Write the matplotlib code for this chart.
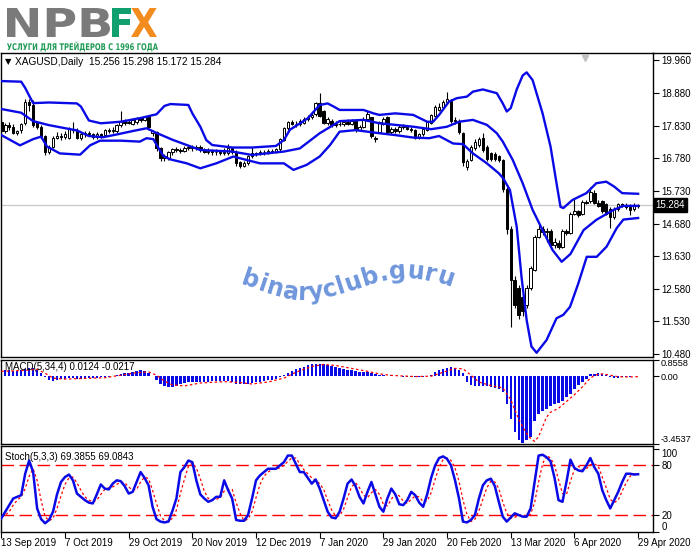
import numpy as np
import matplotlib
matplotlib.use("Agg")
import matplotlib.pyplot as plt
from matplotlib.textpath import TextPath, TextToPath
from matplotlib.patches import PathPatch
from matplotlib.font_manager import FontProperties
from matplotlib.transforms import Affine2D, IdentityTransform
from matplotlib.lines import Line2D

plt.rcParams['font.family'] = ['Liberation Sans', 'DejaVu Sans']

# ---- price data (XAGUSD daily) ----
opens = [17.95, 17.65, 17.85, 17.80, 17.60, 17.68, 17.91, 18.60, 18.50, 17.95,
         17.80, 17.50, 17.00, 17.15, 17.45, 17.50, 17.48, 17.45, 17.72, 17.70,
         17.45, 17.55, 17.60, 17.55, 17.48, 17.55, 17.52, 17.68, 17.65, 17.65,
         17.85, 18.00, 17.92, 17.90, 17.95, 18.07, 18.02, 18.10, 17.60, 17.62,
         17.10, 16.78, 16.78, 16.98, 17.08, 17.05, 17.02, 17.10, 17.15, 17.10,
         17.15, 17.05, 17.00, 17.03, 16.98, 17.00, 16.95, 16.95, 17.10, 17.00,
         16.65, 16.55, 16.62, 16.85, 16.95, 16.92, 17.00, 16.98, 17.02, 17.00,
         17.08, 17.38, 17.75, 17.95, 17.90, 17.88, 17.92, 18.05, 18.10, 18.20,
         18.55, 18.30, 17.92, 18.00, 17.85, 17.90, 17.88, 17.95, 17.90, 18.00,
         17.70, 17.80, 18.05, 18.10, 17.45, 17.62, 17.90, 18.10, 17.62, 17.72,
         17.65, 17.78, 17.80, 17.72, 17.68, 17.48, 17.55, 17.70, 17.92, 18.15,
         18.35, 18.42, 18.60, 18.65, 17.98, 18.00, 17.60, 16.50, 16.72, 17.10,
         17.20, 17.45, 17.15, 16.95, 16.92, 16.85, 16.72, 15.80, 14.50, 12.85,
         12.60, 12.30, 12.05, 12.60, 13.20, 14.25, 14.50, 14.40, 14.45, 14.00,
         14.05, 13.92, 14.45, 14.38, 15.00, 15.08, 14.98, 15.38, 15.40, 15.68,
         15.35, 15.40, 15.30, 15.15, 14.88, 15.15, 15.30, 15.25, 15.20, 15.15,
         15.256]
highs = [18.05, 17.92, 17.95, 17.90, 17.70, 17.92, 18.70, 18.68, 18.65, 18.00,
         17.85, 17.52, 17.20, 17.50, 17.62, 17.60, 17.65, 17.78, 17.95, 17.75,
         17.60, 17.65, 17.66, 17.60, 17.62, 17.60, 17.72, 17.75, 17.78, 17.88,
         18.30, 18.05, 18.02, 18.08, 18.12, 18.12, 18.16, 18.15, 17.70, 17.65,
         17.15, 16.92, 17.02, 17.12, 17.15, 17.12, 17.18, 17.20, 17.20, 17.22,
         17.20, 17.10, 17.10, 17.08, 17.08, 17.05, 17.10, 17.25, 17.15, 17.05,
         16.70, 16.68, 16.90, 17.15, 17.00, 17.05, 17.05, 17.08, 17.08, 17.12,
         17.45, 17.80, 18.00, 18.02, 17.98, 18.05, 18.10, 18.18, 18.25, 18.60,
         18.88, 18.35, 18.10, 18.05, 17.98, 17.98, 18.02, 18.05, 18.05, 18.05,
         17.85, 18.10, 18.32, 18.12, 17.50, 18.00, 18.10, 18.15, 17.80, 17.78,
         17.85, 17.88, 17.85, 17.78, 17.72, 17.60, 17.78, 18.00, 18.22, 18.50,
         18.55, 18.65, 18.92, 18.70, 18.10, 18.05, 17.62, 16.75, 17.20, 17.40,
         17.48, 17.60, 17.20, 17.00, 16.98, 16.90, 16.75, 15.85, 14.60, 13.00,
         12.70, 12.45, 12.70, 13.30, 14.30, 14.65, 14.60, 14.55, 14.50, 14.20,
         14.15, 14.50, 14.52, 15.05, 15.50, 15.12, 15.45, 15.45, 15.87, 15.75,
         15.45, 15.45, 15.35, 15.20, 15.20, 15.35, 15.35, 15.35, 15.30, 15.35,
         15.298]
lows = [17.60, 17.60, 17.70, 17.55, 17.52, 17.60, 17.85, 18.30, 17.80, 17.72,
        17.45, 16.90, 16.92, 17.10, 17.40, 17.38, 17.42, 17.40, 17.60, 17.40,
        17.38, 17.48, 17.50, 17.40, 17.42, 17.45, 17.48, 17.60, 17.60, 17.60,
        17.80, 17.85, 17.88, 17.85, 17.90, 17.95, 17.98, 17.75, 17.50, 17.02,
        16.70, 16.70, 16.72, 16.90, 16.98, 16.95, 16.98, 17.05, 17.02, 17.05,
        17.00, 16.95, 16.92, 16.90, 16.90, 16.88, 16.90, 16.90, 16.92, 16.55,
        16.48, 16.50, 16.58, 16.80, 16.85, 16.88, 16.90, 16.92, 16.95, 16.95,
        17.02, 17.35, 17.70, 17.85, 17.80, 17.82, 17.88, 18.00, 18.05, 18.15,
        18.10, 17.88, 17.85, 17.80, 17.78, 17.82, 17.82, 17.85, 17.85, 17.62,
        17.65, 17.75, 18.00, 17.45, 17.30, 17.60, 17.85, 17.55, 17.55, 17.60,
        17.60, 17.72, 17.68, 17.62, 17.42, 17.42, 17.50, 17.65, 17.88, 18.10,
        18.30, 18.38, 18.55, 17.92, 17.88, 17.55, 16.55, 16.42, 16.70, 17.05,
        17.15, 17.00, 16.70, 16.70, 16.70, 16.65, 15.70, 14.35, 11.35, 11.95,
        11.60, 11.70, 11.95, 12.55, 13.15, 14.20, 14.30, 14.10, 13.95, 13.90,
        13.85, 13.88, 14.30, 14.33, 14.95, 14.88, 14.95, 15.30, 15.35, 15.30,
        15.20, 15.02, 14.95, 14.55, 14.82, 15.10, 15.20, 15.15, 14.95, 15.10,
        15.172]
closes = [17.65, 17.85, 17.78, 17.60, 17.65, 17.88, 18.60, 18.50, 17.85, 17.80,
          17.50, 16.98, 17.15, 17.45, 17.50, 17.48, 17.55, 17.72, 17.70, 17.45,
          17.55, 17.60, 17.55, 17.48, 17.55, 17.50, 17.68, 17.65, 17.70, 17.85,
          18.00, 17.92, 17.95, 18.02, 18.07, 18.02, 18.12, 17.80, 17.65, 17.10,
          16.78, 16.85, 16.98, 17.08, 17.05, 17.02, 17.10, 17.15, 17.10, 17.15,
          17.05, 17.00, 17.03, 16.98, 17.00, 16.95, 17.00, 17.12, 17.00, 16.62,
          16.55, 16.62, 16.85, 16.95, 16.92, 17.00, 16.98, 17.02, 17.00, 17.08,
          17.40, 17.75, 17.95, 17.90, 17.88, 17.98, 18.05, 18.12, 18.18, 18.55,
          18.15, 17.92, 18.05, 17.85, 17.90, 17.88, 17.95, 17.90, 17.98, 17.68,
          17.78, 18.05, 18.20, 17.50, 17.40, 17.95, 18.05, 17.62, 17.72, 17.65,
          17.78, 17.82, 17.72, 17.68, 17.45, 17.55, 17.72, 17.95, 18.18, 18.45,
          18.45, 18.60, 18.68, 17.98, 18.02, 17.62, 16.65, 16.70, 17.15, 17.30,
          17.42, 17.05, 16.75, 16.75, 16.75, 16.72, 15.80, 14.50, 12.85, 12.05,
          11.75, 11.85, 12.60, 13.25, 14.25, 14.50, 14.40, 14.45, 14.00, 14.10,
          13.92, 14.45, 14.38, 15.00, 15.08, 14.95, 15.38, 15.35, 15.70, 15.35,
          15.25, 15.08, 15.00, 14.90, 15.15, 15.30, 15.25, 15.20, 15.12, 15.26,
          15.284]

# Bollinger bands, read at sample bars
bb_up_idx = [0, 5, 6, 7, 8, 12, 19, 20, 22, 25, 30, 35, 39, 41, 42.5, 47, 48, 50, 51.5, 53,
             58, 63, 69, 71, 72.5, 77, 80, 82, 83.5, 85, 91, 93.5, 95, 99, 103.5, 107, 108.5,
             110, 112.5, 114.5, 117, 118.5, 121, 124.5, 126, 127, 128, 129.5, 131, 132, 133.5,
             136, 138, 139.5, 140.5, 141.2, 143.5, 147, 149.5, 152, 154, 156, 160]
bb_up = [19.27, 19.25, 19.05, 18.80, 18.56, 18.58, 18.55, 18.45, 18.00, 17.91, 17.96, 18.08,
         18.20, 18.47, 18.53, 18.50, 18.23, 17.80, 17.37, 17.21, 17.13, 17.13, 17.18, 17.37,
         17.70, 18.07, 18.50, 18.55, 18.45, 18.34, 18.34, 18.23, 18.18, 18.23, 18.18, 17.96,
         17.96, 18.18, 18.61, 18.72, 18.77, 18.93, 19.00, 18.88, 18.55, 18.29, 18.40, 19.00,
         19.45, 19.55, 19.30, 18.23, 17.16, 15.98, 15.22, 15.18, 15.44, 15.66, 15.98, 16.03,
         15.87, 15.66, 15.64]
bb_mid_idx = [0, 5, 8, 12, 19, 22, 25.5, 29, 33, 36.5, 39, 43, 50, 58, 63, 71, 75, 80, 83.5,
              85, 91, 95, 99, 103.5, 108, 112, 115, 118.5, 122, 124.5, 126, 128.5, 131, 133.5,
              136, 138.5, 140.8, 143, 146.3, 149.5, 153.8, 156.3, 160]
bb_mid = [18.37, 18.25, 17.98, 17.85, 17.68, 17.50, 17.46, 17.55, 17.66, 17.75, 17.60, 17.38,
          17.05, 17.00, 16.89, 17.00, 17.10, 17.59, 17.86, 17.98, 18.02, 17.91, 17.86, 17.80,
          17.72, 17.80, 17.96, 18.02, 17.86, 17.59, 17.32, 16.73, 15.98, 15.12, 14.47, 13.83,
          13.45, 13.70, 14.47, 14.80, 15.12, 15.25, 15.25]
bb_low_idx = [0, 4.7, 8, 10, 11.5, 14.7, 19.8, 22.3, 24.8, 30, 34.8, 36.5, 38.2, 39, 40.7,
              42.4, 46.6, 50, 54, 58.3, 61.6, 65, 71, 73.4, 76.7, 80, 82.6, 85, 89, 95, 99,
              103.5, 107.5, 110, 113.5, 116, 118.5, 122, 125, 126.1, 127.8, 129.5, 130.7, 132,
              133.2, 134.5, 137, 139.5, 141.2, 142.9, 145, 147.1, 149.6, 152.1, 154.6, 156.3, 160]
bb_low = [17.53, 17.20, 17.40, 17.48, 17.16, 16.94, 16.90, 17.20, 17.35, 17.35, 17.32, 17.43,
          17.40, 17.22, 16.86, 16.75, 16.62, 16.46, 16.62, 16.84, 16.73, 16.62, 16.62, 16.41,
          16.57, 16.84, 17.21, 17.64, 17.69, 17.59, 17.53, 17.45, 17.43, 17.50, 17.26, 17.24,
          16.94, 16.62, 16.30, 16.14, 15.76, 14.58, 12.97, 11.57, 10.72, 10.52, 10.93, 11.63,
          11.74, 12.00, 12.76, 13.61, 13.61, 13.94, 14.53, 14.81, 14.86]

# MACD(5,34,4) histogram, per bar, and its signal line
macd_hist = [0.32, 0.30, 0.30, 0.28, 0.28, 0.30, 0.36, 0.42, 0.40, 0.30, 0.15,
             -0.05, -0.20, -0.25, -0.20,
             -0.15, -0.12, -0.10, -0.10, -0.12, -0.12, -0.12, -0.10, -0.08, -0.08, -0.06, -0.04, -0.02, 0.02,
             0.08, 0.12, 0.15, 0.18, 0.20, 0.25, 0.30, 0.28, 0.15,
             0.02, -0.20, -0.40, -0.52, -0.56, -0.55, -0.50, -0.42, -0.36, -0.32,
             -0.30, -0.30, -0.30, -0.28, -0.28, -0.27, -0.26, -0.26, -0.25, -0.26,
             -0.30, -0.38, -0.42, -0.42, -0.40, -0.35, -0.30, -0.28, -0.25, -0.22,
             -0.18, -0.12, -0.05, 0.05,
             0.15, 0.25, 0.35, 0.42, 0.48, 0.55, 0.60, 0.63, 0.65, 0.62, 0.58, 0.52,
             0.46, 0.40, 0.36, 0.33, 0.32, 0.28, 0.24, 0.22, 0.20, 0.16, 0.10,
             0.06, 0.05, 0.02, 0.04, 0.03, 0.00, -0.02, -0.03, -0.02, -0.05, -0.06, -0.03, 0.02, 0.08,
             0.20, 0.30, 0.38, 0.44, 0.46, 0.42, 0.32, 0.15,
             -0.30, -0.45, -0.50, -0.50, -0.48, -0.50, -0.55, -0.60, -0.65,
             -0.80, -1.42, -2.22, -2.84, -3.29, -3.45, -3.29, -3.10, -2.30, -1.95, -1.80, -1.69,
             -1.55, -1.45, -1.37, -1.25, -1.05, -0.90, -0.66, -0.45, -0.30, -0.12, 0.10,
             0.13, 0.14, 0.12, 0.05, -0.05, -0.08, -0.08, -0.06, -0.05, -0.03, -0.01, 0.0124]
macd_sig_idx = [0, 6, 9, 11, 13, 16, 20, 26, 30, 34, 37, 39, 41, 43, 46, 50, 56, 60, 63, 67,
                71, 74, 78, 81, 84, 88, 92, 95, 98, 104, 108, 111, 114, 116, 118, 120, 123, 126,
                128, 130, 131, 132.5, 134, 135, 136, 137, 138, 140, 142, 144, 146, 147.5, 149,
                151, 153, 155, 158, 160]
macd_sig = [0.25, 0.30, 0.35, 0.15, -0.10, -0.15, -0.12, -0.08, 0.05, 0.18, 0.22, 0.05, -0.25,
            -0.45, -0.50, -0.35, -0.28, -0.33, -0.40, -0.30, -0.10, 0.20, 0.50, 0.60, 0.55, 0.40,
            0.25, 0.12, 0.04, -0.02, 0.00, 0.20, 0.40, 0.38, 0.05, -0.30, -0.48, -0.60, -1.20,
            -2.20, -2.60, -3.10, -3.35, -3.10, -2.60, -2.10, -1.85, -1.65, -1.30, -0.95, -0.55,
            -0.20, 0.05, 0.12, 0.05, -0.03, -0.04, -0.0217]

# Stochastic(5,3,3) main and signal, per bar
stoch_k = [16, 24, 32, 40, 42, 44, 70, 86, 72, 28,
           15, 10, 14, 24, 45, 60, 66, 69, 62, 46,
           42, 38, 35, 34, 45, 57, 52, 51, 58, 62,
           61, 55, 46, 48, 60, 72, 65, 56, 30, 15,
           12, 11, 12, 25, 40, 72, 78, 86, 84, 62,
           45, 40, 36, 38, 42, 42, 62, 50, 40, 14,
           13, 13, 20, 40, 62, 68, 72, 76, 76, 76,
           80, 84, 92, 92, 82, 72, 72, 65, 58, 63,
           52, 38, 24, 17, 16, 24, 40, 58, 63, 55,
           42, 34, 48, 60, 45, 30, 24, 40, 52, 45,
           33, 32, 38, 48, 44, 35, 30, 45, 65, 80,
           89, 91, 88, 80, 62, 40, 12, 11, 14, 20,
           40, 56, 62, 64, 55, 36, 18, 12, 17, 22,
           20, 18, 18, 28, 60, 92, 93, 90, 85, 65,
           38, 36, 60, 87, 77, 74, 73, 80, 89, 78,
           70, 50, 38, 28, 38, 48, 60, 70, 70, 69,
           69.39]
stoch_d = [18, 20, 24, 32, 38, 42, 52, 67, 76, 62,
           38, 18, 13, 16, 28, 43, 57, 65, 66, 59,
           50, 42, 38, 36, 38, 45, 51, 53, 54, 57,
           60, 59, 54, 50, 51, 60, 66, 64, 50, 34,
           19, 13, 12, 16, 26, 46, 63, 79, 83, 77,
           64, 49, 40, 38, 39, 41, 49, 51, 51, 35,
           22, 13, 15, 24, 41, 57, 67, 72, 75, 76,
           77, 80, 85, 89, 89, 82, 75, 70, 65, 62,
           58, 51, 38, 26, 19, 19, 27, 41, 54, 59,
           53, 44, 41, 47, 51, 45, 33, 31, 39, 46,
           43, 37, 34, 39, 43, 42, 36, 37, 47, 63,
           78, 87, 89, 86, 77, 61, 38, 21, 12, 15,
           25, 39, 53, 61, 60, 52, 36, 22, 16, 17,
           20, 20, 19, 21, 35, 60, 82, 92, 89, 80,
           63, 46, 45, 61, 75, 79, 75, 76, 81, 82,
           79, 66, 53, 39, 35, 38, 49, 59, 67, 70,
           69.08]

price_ticks = [19.96, 18.88, 17.83, 16.78, 15.73, 14.68, 13.63, 12.58, 11.53, 10.48]
date_idx = [0, 16, 32, 48, 64, 80, 96, 112, 128, 144, 160]
date_labels = ['13 Sep 2019', '7 Oct 2019', '29 Oct 2019', '20 Nov 2019', '12 Dec 2019',
               '7 Jan 2020', '29 Jan 2020', '20 Feb 2020', '13 Mar 2020', '6 Apr 2020',
               '29 Apr 2020']
last_price = 15.284

# ---- layout in pixels ----
W, H = 691, 549
fig = plt.figure(figsize=(W / 100, H / 100), dpi=100)
BLUE = '#0a0ae6'


def ax_px(left, top, right, bottom):
    return fig.add_axes([left / W, 1 - bottom / H, (right - left) / W, (bottom - top) / H])


XL = ((1 - 1.3) / 3.98, (653 - 1.3) / 3.98)
main = ax_px(1, 53, 653, 357)
macd = ax_px(1, 359.5, 653, 443.5)
stoch = ax_px(1, 446, 653, 531.5)

for a in (main, macd, stoch):
    a.set_xlim(*XL)
    a.yaxis.tick_right()
    a.tick_params(axis='y', direction='out', length=4, width=0.8, labelsize=7, pad=2)
    for s in a.spines.values():
        s.set_linewidth(1.0)
        s.set_color('black')
    a.set_facecolor('white')

# ---- main price chart ----
o, hi, lo, c = (np.array(v) for v in (opens, highs, lows, closes))
idx = np.arange(len(c))
up = c >= o
main.axhline(last_price, color='#c8c8c8', lw=0.9, zorder=1)
main.vlines(idx, lo, hi, color='black', lw=0.8, zorder=2)
main.bar(idx[up], np.maximum((c - o)[up], 0.012), bottom=o[up], width=0.62,
         color='white', edgecolor='black', lw=0.7, zorder=3)
main.bar(idx[~up], (o - c)[~up], bottom=c[~up], width=0.62,
         color='black', edgecolor='black', lw=0.7, zorder=3)
main.plot(bb_up_idx, bb_up, color=BLUE, lw=1.7, zorder=4)
main.plot(bb_mid_idx, bb_mid, color=BLUE, lw=1.7, zorder=4)
main.plot(bb_low_idx, bb_low, color=BLUE, lw=1.7, zorder=4)
main.set_ylim(10.383, 20.174)
main.set_xticks([])
main.set_yticks(price_ticks)
main.set_yticklabels(['%.3f' % v for v in price_ticks])
main.text(1.004, last_price, '%.3f' % last_price, transform=main.get_yaxis_transform(),
          ha='left', va='center', color='white', fontsize=7, clip_on=False,
          bbox=dict(boxstyle='square,pad=0.2', fc='black', ec='black'))
main.plot([0.8957], [0.985], marker='v', color='#c0c0c0', ms=5,
          transform=main.transAxes, clip_on=False)

# ---- MACD ----
macd.bar(idx, macd_hist, width=0.6, color=BLUE, zorder=2)
macd.plot(macd_sig_idx, macd_sig, color='red', lw=0.9, ls=(0, (2, 2)), zorder=3)
macd.set_ylim(-3.4537, 0.8558)
macd.set_xticks([])
macd.set_yticks([0.8558, 0.0, -3.4537])
macd.set_yticklabels(['0.8558', '0.00', '-3.4537'])
macd.tick_params(axis='y', labelsize=6.6, pad=1.5)
tl = macd.get_yticklabels()
tl[0].set_va('top')
tl[2].set_va('bottom')

# ---- Stochastic ----
stoch.axhline(80, color='red', lw=1.0, ls=(0, (9, 4)), zorder=1)
stoch.axhline(20, color='red', lw=1.0, ls=(0, (9, 4)), zorder=1)
stoch.plot(idx, stoch_d, color='red', lw=0.9, ls=(0, (2, 2)), zorder=2)
stoch.plot(idx, stoch_k, color=BLUE, lw=1.8, zorder=3)
stoch.set_ylim(0, 103.6)
stoch.set_yticks([100, 80, 20, 0])
stoch.set_yticklabels(['100', '80', '20', '0'])
tl = stoch.get_yticklabels()
tl[0].set_va('top')
tl[3].set_va('bottom')
stoch.set_xticks(date_idx)
stoch.set_xticklabels(date_labels, ha='left')
stoch.tick_params(axis='x', direction='out', length=4, width=0.8, labelsize=7, pad=1)

# frame line across price scale
fig.add_artist(Line2D([653 / W, 1], [1 - 53 / H] * 2, color='black', lw=1.0))

# ---- headers ----
fig.text(5 / W, 1 - 62 / H, '\u25bc', fontsize=6, family='DejaVu Sans', va='center')
fig.text(15 / W, 1 - 62 / H, 'XAGUSD,Daily  15.256 15.298 15.172 15.284',
         fontsize=7.3, va='center', color='black')
fig.text(5 / W, 1 - 367 / H, 'MACD(5,34,4) 0.0124 -0.0217', fontsize=7, va='center')
fig.text(5 / W, 1 - 457 / H, 'Stoch(5,3,3) 69.3855 69.0843', fontsize=7, va='center')


# ---- logo ----
def path_text(s, box, color):
    fp = FontProperties(family='DejaVu Sans', weight='bold')
    tp = TextPath((0, 0), s, size=100, prop=fp)
    ext = tp.get_extents()
    x0, y0, x1, y1 = box
    tr = (Affine2D().translate(-ext.x0, -ext.y0)
          .scale((x1 - x0) / ext.width, (y1 - y0) / ext.height)
          .translate(x0, H - y1))
    fig.add_artist(PathPatch(tr.transform_path(tp), fc=color, ec='none',
                             transform=IdentityTransform()))


path_text('NPB', (7, 8, 110, 37), '#7a7a7a')
path_text('F', (112, 8, 131, 37), '#10a070')
path_text('X', (131, 8, 157, 37), '#f28c1e')
path_text('УСЛУГИ ДЛЯ ТРЕЙДЕРОВ С 1996 ГОДА', (7, 41.5, 158, 51.5), '#1e9a55')

# ---- watermark on a wave ----
wm = 'binaryclub.guru'
fp_wm = FontProperties(family='DejaVu Sans', weight='bold', size=17)
ttp = TextToPath()


def wlen(s):
    if not s:
        return 0.0
    return ttp.get_text_width_height_descent(s, fp_wm, ismath=False)[0] * 100 / 72


x_start = 240
for k, ch in enumerate(wm):
    xc = x_start + wlen(wm[:k]) + wlen(ch) / 2
    yb = 289 + 11 * np.cos(np.pi * (xc - 305) / 100)
    slope = -11 * np.pi / 100 * np.sin(np.pi * (xc - 305) / 100)
    rot = -np.degrees(np.arctan(slope))
    fig.text(xc / W, 1 - yb / H, ch, fontproperties=fp_wm, color='#6f96dc',
             rotation=rot, rotation_mode='anchor', ha='center', va='baseline')

fig.savefig('out.png', dpi=100, facecolor='white')
